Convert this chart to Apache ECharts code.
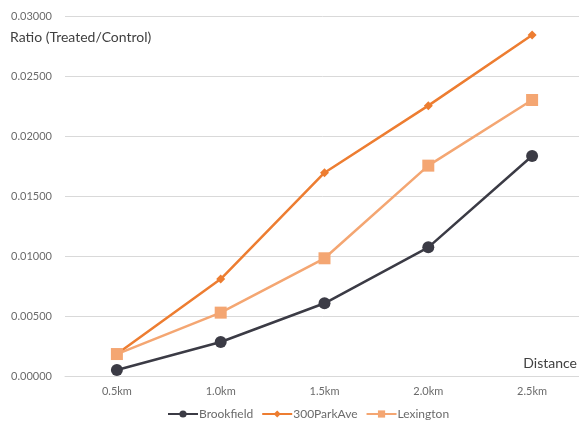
<!DOCTYPE html>
<html>
<head>
<meta charset="utf-8">
<script src="https://cdn.jsdelivr.net/npm/echarts@6/dist/echarts.min.js"></script>
<style>
  html, body { margin: 0; padding: 0; background: #fff; }
  #chart { width: 579px; height: 424px; }
</style>
</head>
<body>
<div id="chart"></div>
<script>
// Distance bands along the x axis
const distances = ['0.5km', '1.0km', '1.5km', '2.0km', '2.5km'];

// Treated/Control ratio per site
const brookfield = [0.00050, 0.00283, 0.00606, 0.01072, 0.01833];
const parkAve300 = [0.00183, 0.00808, 0.01694, 0.02253, 0.02842];
const lexington  = [0.00183, 0.00528, 0.00981, 0.01753, 0.02300];

// Y axis range
const yMin = 0;
const yMax = 0.03;
const yStep = 0.005;

const FONT = 'Lato, "Noto Sans", sans-serif';
const chart = echarts.init(document.getElementById('chart'), null, { renderer: 'canvas' });

function lineSeries(name, data, color, symbol, size) {
  return {
    name: name,
    type: 'line',
    data: data,
    symbol: symbol,
    symbolSize: size,
    showAllSymbol: true,
    lineStyle: { color: color, width: 2.5 },
    itemStyle: { color: color },
    emphasis: { disabled: true },
    animation: false
  };
}

chart.setOption({
  animation: false,
  backgroundColor: '#ffffff',
  grid: {
    left: 65, width: 519, top: 16, bottom: 48,
    containLabel: false, outerBoundsMode: 'none'
  },
  xAxis: {
    type: 'category',
    data: distances,
    boundaryGap: true,
    axisLine: { show: true, lineStyle: { color: '#d9d9d9', width: 1 } },
    axisTick: { show: false },
    axisLabel: { color: '#6b6b6b', fontSize: 11, fontFamily: FONT, margin: 10 },
    splitLine: { show: false }
  },
  yAxis: {
    type: 'value',
    min: yMin,
    max: yMax,
    interval: yStep,
    axisLine: { show: false },
    axisTick: { show: false },
    axisLabel: {
      color: '#6b6b6b', fontSize: 11, fontFamily: FONT, margin: 13,
      formatter: v => v.toFixed(5)
    },
    splitLine: { lineStyle: { color: '#d9d9d9', width: 1 } }
  },
  legend: {
    bottom: -1,
    left: 162,
    itemWidth: 30,
    itemHeight: 9,
    itemGap: 8,
    textStyle: { color: '#6b6b6b', fontSize: 12, fontFamily: FONT, padding: [0, 0, 0, -4] },
    data: ['Brookfield', '300ParkAve', 'Lexington']
  },
  graphic: [
    {
      type: 'text', left: 10, top: 30,
      style: { text: 'Ratio (Treated/Control)', fill: '#404040', font: '14px ' + FONT }
    },
    {
      type: 'text', right: 2, top: 356,
      style: { text: 'Distance', fill: '#404040', font: '14px ' + FONT }
    }
  ],
  series: [
    lineSeries('Brookfield', brookfield, '#3b3b45', 'circle', 12),
    lineSeries('300ParkAve', parkAve300, '#ed7d31', 'diamond', 9),
    lineSeries('Lexington', lexington, '#f4a672', 'rect', 12)
  ]
});
</script>
</body>
</html>
